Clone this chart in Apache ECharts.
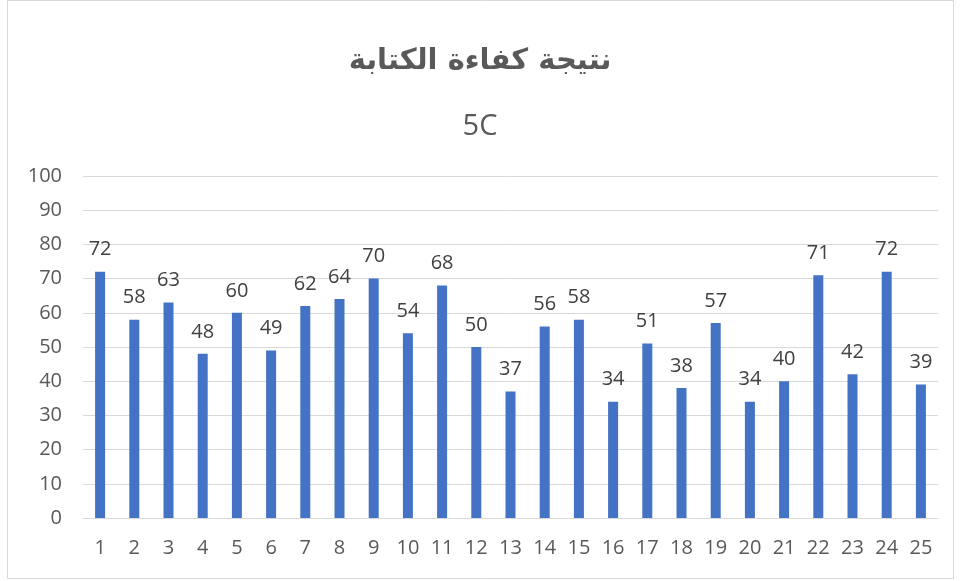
<!DOCTYPE html>
<html><head><meta charset="utf-8">
<script src="https://cdn.jsdelivr.net/npm/echarts@6/dist/echarts.min.js"></script>
<style>html,body{margin:0;padding:0;background:#fff}#c{width:960px;height:581px}</style>
</head><body><div id="c"></div>
<script>
const categories = ['1','2','3','4','5','6','7','8','9','10','11','12','13','14','15','16','17','18','19','20','21','22','23','24','25'];
const scores = [72,58,63,48,60,49,62,64,70,54,68,50,37,56,58,34,51,38,57,34,40,71,42,72,39];
const titleText = 'نتيجة كفاءة الكتابة';
const subtitleText = '5C';
const chart = echarts.init(document.getElementById('c'), null, {renderer:'canvas'});
chart.setOption({
  animation:false,
  graphic:[{type:'rect',shape:{x:7.5,y:0.5,width:946,height:578},style:{fill:'none',stroke:'#d9d9d9',lineWidth:1},silent:true}],
  title:[
    {text:titleText,left:'center',top:42,textStyle:{fontFamily:'DejaVu Sans',fontWeight:'bold',fontSize:29,color:'#595959'}},
    {text:subtitleText,left:'center',top:107,textStyle:{fontFamily:'Open Sans',fontWeight:'normal',fontSize:29,color:'#595959'}}
  ],
  grid:{left:83,right:22,top:176,bottom:63},
  xAxis:{type:'category',data:categories,
    axisLine:{lineStyle:{color:'#d9d9d9',width:1}},axisTick:{show:false},
    axisLabel:{color:'#595959',fontSize:20,fontFamily:'Open Sans',margin:20}},
  yAxis:{type:'value',min:0,max:100,interval:10,
    axisLine:{show:false},axisTick:{show:false},
    splitLine:{lineStyle:{color:'#d9d9d9',width:1}},
    axisLabel:{color:'#595959',fontSize:20,fontFamily:'Open Sans',margin:21}},
  series:[{type:'bar',data:scores,barWidth:10,
    itemStyle:{color:'#4472C4'},
    label:{show:true,position:'top',distance:12,color:'#404040',fontSize:20,fontFamily:'Open Sans'}}]
});
</script></body></html>
